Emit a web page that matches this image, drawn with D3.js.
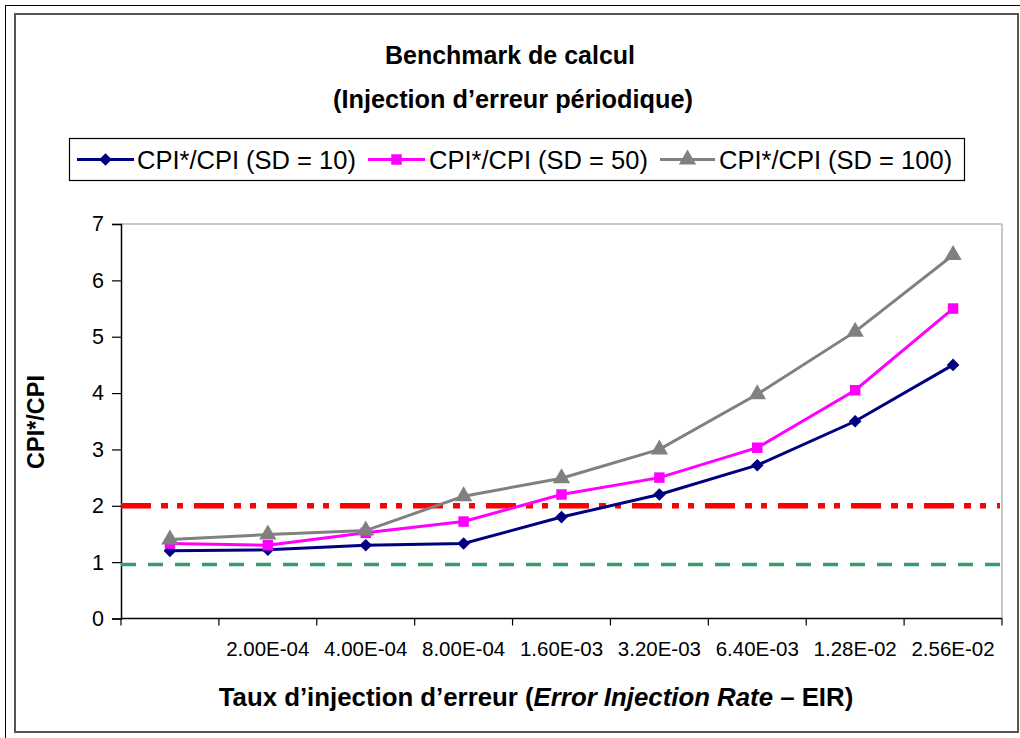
<!DOCTYPE html>
<html>
<head>
<meta charset="utf-8">
<script src="https://cdn.jsdelivr.net/npm/d3@7"></script>
<style>
  html, body { margin: 0; padding: 0; background: #fff; }
  svg { display: block; font-family: "Liberation Sans", Arial, sans-serif; }
</style>
</head>
<body>
<svg id="chart" width="1020" height="738"></svg>
<script>
// Error injection rates (first category carries no printed label)
const eirLabels = ["", "2.00E-04", "4.00E-04", "8.00E-04", "1.60E-03", "3.20E-03", "6.40E-03", "1.28E-02", "2.56E-02"];

// CPI*/CPI for each sampling distance
const sd10  = [1.20, 1.22, 1.30, 1.33, 1.80, 2.20, 2.72, 3.50, 4.50];
const sd50  = [1.33, 1.30, 1.52, 1.72, 2.20, 2.50, 3.03, 4.05, 5.50];
const sd100 = [1.40, 1.49, 1.56, 2.17, 2.49, 3.00, 3.98, 5.09, 6.45];

const seriesNames = ["CPI*/CPI (SD = 10)", "CPI*/CPI (SD = 50)", "CPI*/CPI (SD = 100)"];
const yTicks = [0, 1, 2, 3, 4, 5, 6, 7];

// Threshold lines
const redLimit = 2;
const greenLimit = 0.96;

const svg = d3.select("#chart");

// Page frames
svg.append("rect").attr("x", 5.5).attr("y", 5.5).attr("width", 1030).attr("height", 750)
  .attr("fill", "none").attr("stroke", "#000").attr("stroke-width", 1);
svg.append("rect").attr("x", 15).attr("y", 14).attr("width", 1003).attr("height", 718)
  .attr("fill", "#fff").attr("stroke", "#555").attr("stroke-width", 2);

const plot = { left: 121, right: 1002, top: 224, bottom: 618.5 };

const x = d3.scaleBand().domain(d3.range(eirLabels.length)).range([plot.left, plot.right]).padding(0);
const xc = i => x(i) + x.bandwidth() / 2;
const y = d3.scaleLinear().domain([0, 7]).range([plot.bottom, plot.top]);

// Titles
svg.append("text").attr("x", 510).attr("y", 64).attr("text-anchor", "middle")
  .attr("font-size", 25).attr("font-weight", "bold").text("Benchmark de calcul");
svg.append("text").attr("x", 513).attr("y", 108).attr("text-anchor", "middle")
  .attr("font-size", 25.3).attr("font-weight", "bold").text("(Injection d\u2019erreur p\u00e9riodique)");

// Plot frame (top / right in light gray)
svg.append("line").attr("x1", plot.left).attr("x2", plot.right).attr("y1", plot.top).attr("y2", plot.top)
  .attr("stroke", "#c8c8c8").attr("stroke-width", 2);
svg.append("line").attr("x1", plot.right).attr("x2", plot.right).attr("y1", plot.top).attr("y2", plot.bottom)
  .attr("stroke", "#c8c8c8").attr("stroke-width", 2);

// Y axis
const yAxis = d3.axisLeft(y).tickValues(yTicks).tickSize(9).tickPadding(8).tickFormat(d3.format("d"));
const gy = svg.append("g").attr("transform", `translate(${plot.left},0)`).call(yAxis);
gy.select(".domain").attr("stroke", "#000").attr("stroke-width", 1.5);
gy.selectAll(".tick line").attr("stroke", "#000").attr("stroke-width", 1.2);
gy.selectAll(".tick text").attr("font-size", 21.5).attr("fill", "#000")
  .attr("font-family", "Liberation Sans, Arial, sans-serif");

// X axis: ticks on category boundaries, labels under category centres
const gx = svg.append("g");
gx.append("line").attr("x1", plot.left).attr("x2", plot.right).attr("y1", plot.bottom).attr("y2", plot.bottom)
  .attr("stroke", "#000").attr("stroke-width", 1.5);
const bounds = x.domain().map(i => x(i)).concat([x(x.domain().length - 1) + x.bandwidth()]);
gx.selectAll("line.tk").data(bounds).enter().append("line").attr("class", "tk")
  .attr("x1", d => d).attr("x2", d => d).attr("y1", plot.bottom).attr("y2", plot.bottom + 7)
  .attr("stroke", "#000").attr("stroke-width", 1.2);
gx.selectAll("text").data(eirLabels).enter().append("text")
  .attr("x", (d, i) => xc(i)).attr("y", 656).attr("text-anchor", "middle")
  .attr("font-size", 20.5).attr("fill", "#000").text(d => d);

// Axis titles
svg.append("text").attr("transform", "translate(44,422) rotate(-90)").attr("text-anchor", "middle")
  .attr("font-size", 23.5).attr("font-weight", "bold").text("CPI*/CPI");
const xt = svg.append("text").attr("x", 536).attr("y", 706).attr("text-anchor", "middle")
  .attr("font-size", 25.8).attr("font-weight", "bold");
xt.append("tspan").text("Taux d\u2019injection d\u2019erreur (");
xt.append("tspan").attr("font-style", "italic").text("Error Injection Rate");
xt.append("tspan").text(" \u2013 EIR)");

// Threshold lines
svg.append("line").attr("x1", plot.left).attr("x2", plot.right - 2)
  .attr("y1", y(redLimit)).attr("y2", y(redLimit))
  .attr("stroke", "#ff0000").attr("stroke-width", 5.5)
  .attr("stroke-dasharray", "30 10 7 9 6 11");
svg.append("line").attr("x1", plot.left).attr("x2", plot.right - 2)
  .attr("y1", y(greenLimit)).attr("y2", y(greenLimit))
  .attr("stroke", "#3a9a6c").attr("stroke-width", 3.5)
  .attr("stroke-dasharray", "15 12");

// Series (diamond = square turned by 45 degrees)
const series = [
  { name: seriesNames[0], values: sd10,  color: "#000080", symbol: d3.symbolSquare,   size: 80,  rot: 45 },
  { name: seriesNames[1], values: sd50,  color: "#ff00ff", symbol: d3.symbolSquare,   size: 110, rot: 0 },
  { name: seriesNames[2], values: sd100, color: "#808080", symbol: d3.symbolTriangle, size: 130, rot: 0 }
];
const line = d3.line().x((d, i) => xc(i)).y(d => y(d));

series.forEach(s => {
  svg.append("path").datum(s.values).attr("d", line)
    .attr("fill", "none").attr("stroke", s.color).attr("stroke-width", 3);
  svg.selectAll(null).data(s.values).enter().append("path")
    .attr("transform", (d, i) => `translate(${xc(i)},${y(d)}) rotate(${s.rot})`)
    .attr("d", d3.symbol().type(s.symbol).size(s.size)).attr("fill", s.color);
});

// Legend
const lg = svg.append("g");
lg.append("rect").attr("x", 69.5).attr("y", 138.5).attr("width", 895).attr("height", 42)
  .attr("fill", "#fff").attr("stroke", "#000").attr("stroke-width", 1.2);
const legendPos = [
  { x1: 77, x2: 134, tx: 137 },
  { x1: 368, x2: 425, tx: 429 },
  { x1: 660, x2: 715, tx: 719 }
];
series.forEach((s, i) => {
  const p = legendPos[i];
  const cy = 159.5;
  lg.append("line").attr("x1", p.x1).attr("x2", p.x2).attr("y1", cy).attr("y2", cy)
    .attr("stroke", s.color).attr("stroke-width", 3);
  lg.append("path").attr("transform", `translate(${(p.x1 + p.x2) / 2},${cy}) rotate(${s.rot})`)
    .attr("d", d3.symbol().type(s.symbol).size(s.size)).attr("fill", s.color);
  lg.append("text").attr("x", p.tx).attr("y", cy + 9).attr("font-size", 25.5).attr("fill", "#000")
    .text(s.name);
});
</script>
</body>
</html>
